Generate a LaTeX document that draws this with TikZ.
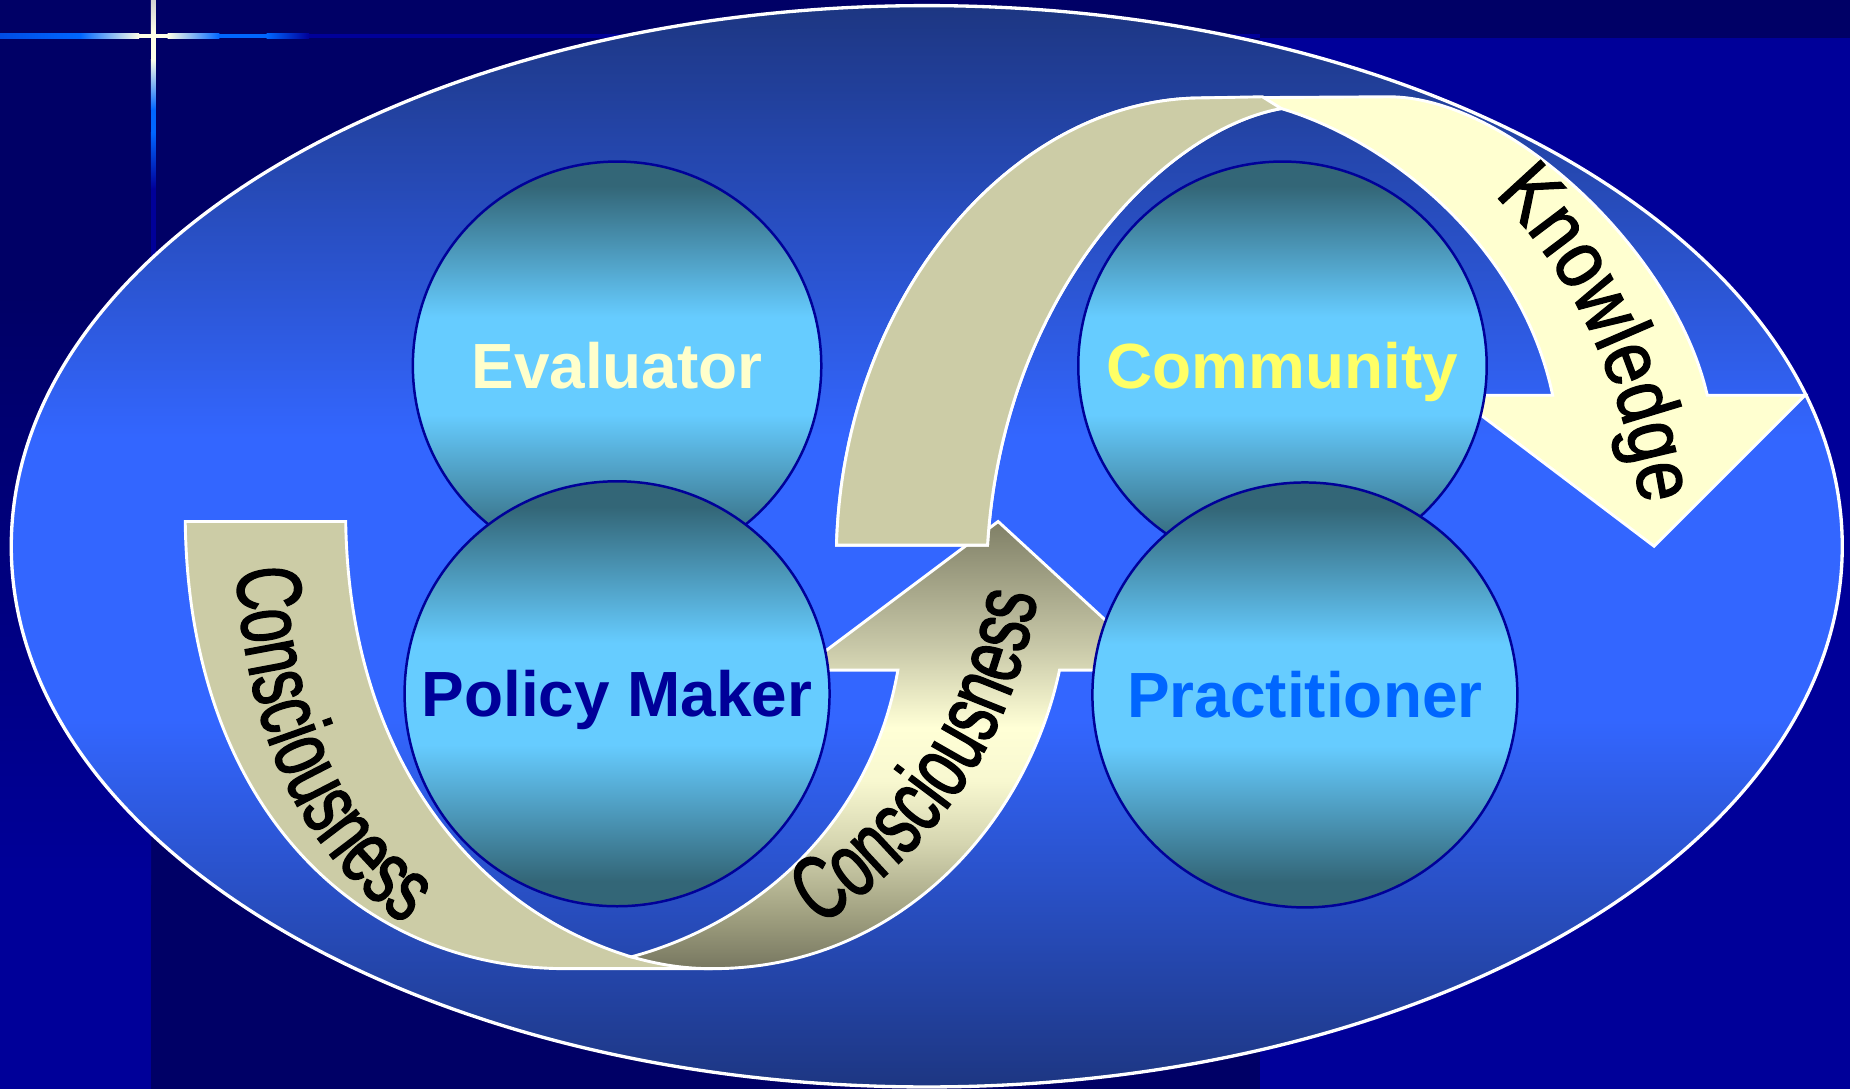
\documentclass[tikz,border=0pt]{standalone}
\usepackage{fontspec}
\setmainfont{Liberation Sans}
\newfontfamily\narrowsans[FakeStretch=0.66, FakeBold=1.6]{Liberation Sans}
\newfontfamily\knowsans[FakeStretch=0.85, FakeBold=1.6]{Liberation Sans}
\usepackage{xcolor}
\usepackage{tikz}
\usetikzlibrary{shapes.geometric}
\usetikzlibrary{decorations.text}

\definecolor{bgnavy}{HTML}{000066}
\definecolor{bgblue}{HTML}{000099}
\definecolor{glowblue}{HTML}{0066FF}
\definecolor{glowcream}{HTML}{FFFFE8}
\definecolor{ovaldark}{RGB}{29,54,130}
\definecolor{ovalmid}{HTML}{3366FF}
\definecolor{sdark}{HTML}{336677}
\definecolor{slight}{HTML}{66CCFF}
\definecolor{khaki}{HTML}{CCCCA6}
\definecolor{cream}{HTML}{FFFFD0}
\definecolor{conA}{HTML}{777760}
\definecolor{conB}{HTML}{A0A080}
\definecolor{conC}{HTML}{D5D5B0}
\definecolor{conD}{HTML}{F8F8D0}
\definecolor{conE}{HTML}{FFFFD6}
\definecolor{conF}{HTML}{C8C8A8}
\definecolor{conG}{HTML}{7F7F66}
\definecolor{evalcol}{HTML}{FFFFCC}
\definecolor{commcol}{HTML}{FFFF66}
\definecolor{policycol}{HTML}{000099}
\definecolor{praccol}{HTML}{0066FF}

\pgfdeclareverticalshading{ovalshade}{100bp}{color(0bp)=(ovaldark); color(25bp)=(ovaldark); color(42bp)=(ovalmid); color(55bp)=(ovalmid); color(75bp)=(ovaldark); color(100bp)=(ovaldark)}
\pgfdeclareverticalshading{sphereshade}{100bp}{color(0bp)=(sdark); color(28bp)=(sdark); color(44bp)=(slight); color(56bp)=(slight); color(72bp)=(sdark); color(100bp)=(sdark)}
\pgfdeclareverticalshading{conshade}{100bp}{color(0bp)=(conA); color(25bp)=(conA); color(31bp)=(conB); color(39bp)=(conC); color(46bp)=(conD); color(52bp)=(conE); color(61bp)=(conF); color(75bp)=(conG); color(100bp)=(conG)}

\tikzset{
  oval/.style={ellipse, draw=white, line width=0.8pt, shade, shading=ovalshade, inner sep=0pt, minimum width=15.51cm, minimum height=9.16cm},
  role/.style={circle, draw=bgblue, line width=0.6pt, shade, shading=sphereshade, inner sep=0pt, font=\bfseries\fontsize{15.4pt}{18pt}\selectfont, text height=11pt, text depth=0pt},
  band/.style={draw=white, line width=0.7pt},
  consword/.style={decorate, decoration={text along path, text align=center, text={|\narrowsans\fontsize{22pt}{26pt}\selectfont|Consciousness}}},
  knowword/.style={decorate, decoration={text along path, text align=center, text={|\knowsans\fontsize{20pt}{24pt}\selectfont|Knowledge}}}
}

\begin{document}
\begin{tikzpicture}[x=0.01cm, y=-0.01cm]
\useasboundingbox (0,0) rectangle (1568,923);
\fill[bgnavy] (0,0) rectangle (1568,923);
\fill[bgblue] (1068,32) rectangle (1568,923);
\shade[top color=bgnavy, bottom color=bgblue] (0,250) rectangle (128,750);
\fill[bgblue] (0,750) rectangle (128,923);
% glowing cross
\shade[left color=glowblue!75!bgblue, right color=glowblue] (0,28.4) rectangle (68,32.6);
\shade[left color=glowblue, right color=glowcream] (68,28.4) rectangle (118,32.6);
\fill[glowcream] (118,28.4) rectangle (142,32.6);
\shade[left color=glowcream, right color=glowblue] (142,28.4) rectangle (186,32.6);
\fill[glowblue] (186,28.4) rectangle (226,32.6);
\shade[left color=glowblue, right color=bgblue] (226,28.4) rectangle (262,32.6);
\fill[bgblue] (262,28.4) rectangle (1068,32.6);
\shade[top color=gray!35, bottom color=glowcream] (127.9,0) rectangle (132.1,28.4);
\fill[glowcream] (127.9,28.4) rectangle (132.1,50);
\shade[top color=glowcream, bottom color=glowblue] (127.9,50) rectangle (132.1,93);
\fill[glowblue] (127.9,93) rectangle (132.1,112);
\shade[top color=glowblue, bottom color=bgblue] (127.9,112) rectangle (132.1,160);
\fill[bgblue] (127.9,160) rectangle (132.1,250);

\node[oval] (oval) at (785.5,463) {};

% arrows
\draw[band, fill=khaki] (157,442) .. controls (160,680) and (300,821) .. (480,821) -- (604,821) -- (535,811) .. controls (400,770) and (296,640) .. (293,442) -- cycle;
\path[consword] (199,440) .. controls (200,640) and (270,750) .. (380,805);

\shadedraw[band, shading=conshade] (535,811) .. controls (560,818) and (580,821) .. (604,821) .. controls (760,821) and (870,700) .. (898,568) -- (983,568) -- (846,442) -- (678,568) -- (761,568) .. controls (740,690) and (650,780) .. (535,811) -- cycle;
\path[consword] (662,803) .. controls (772,745) and (868,640) .. (884,468);

\draw[band, fill=cream] (709,462) .. controls (715,250) and (860,83) .. (1019,83) -- (1177,82) .. controls (1280,82) and (1420,215) .. (1447,335) -- (1530,335) -- (1402,463) -- (1233,335) -- (1316,335) .. controls (1290,210) and (1180,120) .. (1086,92) .. controls (985,110) and (850,250) .. (837,462) -- cycle;
\draw[band, fill=khaki] (709,462) .. controls (715,250) and (860,83) .. (1019,83) -- (1070,82) -- (1086,92) .. controls (985,110) and (850,250) .. (837,462) -- cycle;
\path[knowword] (1250,150) .. controls (1330,220) and (1378,320) .. (1394,450);

% roles
\node[role, minimum size=3.46cm, text=evalcol] (eval) at (523,310) {Evaluator};
\node[role, minimum size=3.60cm, text=policycol] (policy) at (523,588) {Policy Maker};
\node[role, minimum size=3.46cm, text=commcol] (community) at (1087,310) {Community};
\node[role, minimum size=3.60cm, text=praccol] (practice) at (1106,589) {Practitioner};
\end{tikzpicture}
\end{document}
